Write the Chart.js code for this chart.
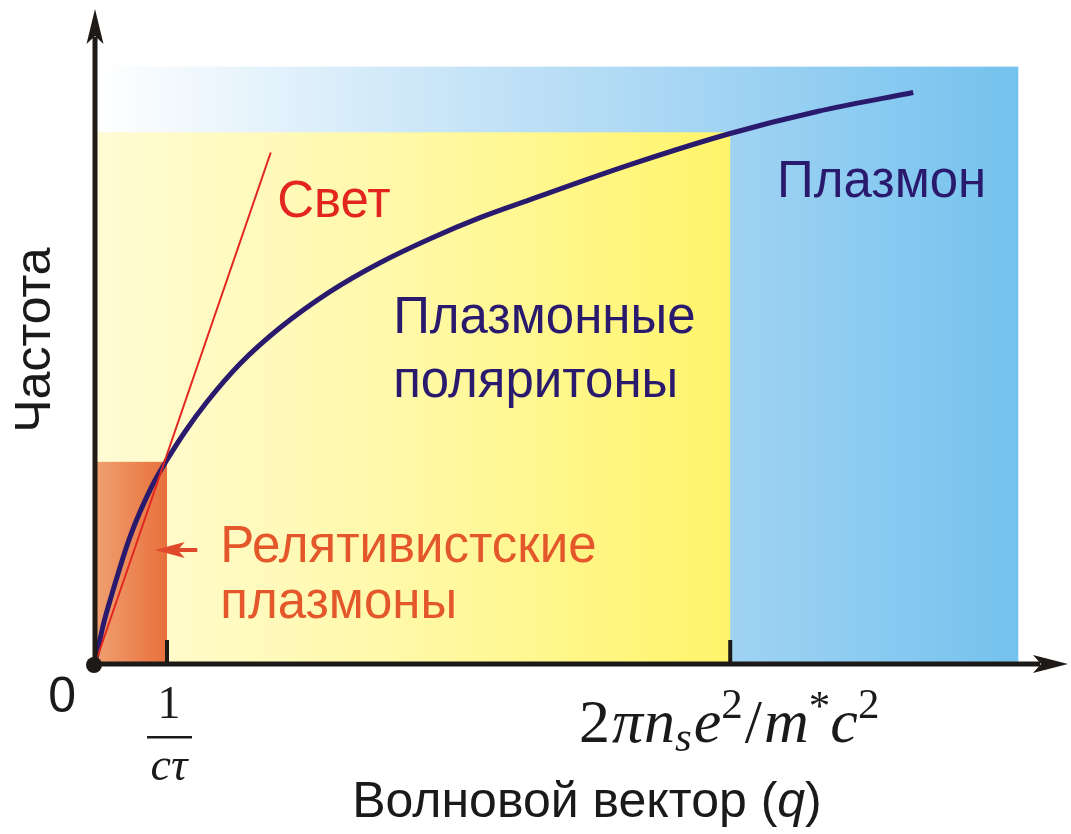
<!DOCTYPE html>
<html>
<head>
<meta charset="utf-8">
<title>Плазмоны</title>
<script src="https://cdn.jsdelivr.net/npm/chart.js@4.4.1/dist/chart.umd.min.js"></script>
<style>
  html, body { margin: 0; padding: 0; background: #ffffff; }
  #wrap { width: 1071px; height: 834px; }
</style>
</head>
<body>
<div id="wrap"><canvas id="plasmonChart" width="1071" height="834"></canvas></div>
<script>
(function (global) {
    "use strict";

    // ── Data (q in units of 1/cτ, ω in units of ω(1/cτ)) ──

    var curveQ = [0, 0.111, 0.236, 0.486, 0.792, 1.0, 1.25, 1.556, 2.014, 2.569, 3.264, 3.958, 4.653, 5.347, 6.042, 7.431, 8.819, 10.028, 11.361];
    var curveW = [0, 0.188, 0.347, 0.629, 0.881, 1.010, 1.149, 1.297, 1.485, 1.663, 1.842, 1.985, 2.104, 2.208, 2.297, 2.470, 2.624, 2.733, 2.827];

    var lightQ = [0, 2.44];
    var lightW = [0, 2.53];

    // shaded regions: plasmon, polaritons, relativistic plasmons
    var regionNames = ["plasmon", "polariton", "relativistic"];
    var regionQmax  = [12.82, 8.82, 1.0];
    var regionWmax  = [2.955, 2.63, 1.0];

    var tickQ = [1.0, 8.82];

    var axisQmax = 13.51;
    var axisWmax = 3.24;

    // ── Colours ──

    var NAVY   = "#2a1a6e";
    var RED    = "#e2261f";
    var ORANGE = "#e4572a";
    var INK    = "#1d1a18";

    function toPoints(xs, ys) {
        return xs.map(function (x, i) { return { x: x, y: ys[i] }; });
    }

    // ── Drawing helpers ──

    function arrowHead(ctx, tipX, tipY, dirX, dirY, len, half, notch) {
        var nx = -dirY, ny = dirX;
        var bx = tipX - dirX * len, by = tipY - dirY * len;
        ctx.beginPath();
        ctx.moveTo(tipX, tipY);
        ctx.lineTo(bx + nx * half, by + ny * half);
        ctx.lineTo(tipX - dirX * (len - notch), tipY - dirY * (len - notch));
        ctx.lineTo(bx - nx * half, by - ny * half);
        ctx.closePath();
        ctx.fill();
    }

    function regionFill(ctx, name, left, right) {
        var g = ctx.createLinearGradient(left, 0, right, 0);
        if (name === "plasmon") {
            g.addColorStop(0, "#ffffff");
            g.addColorStop(0.35, "#cde7f8");
            g.addColorStop(0.69, "#a0d3f3");
            g.addColorStop(1, "#74c2ee");
        } else if (name === "polariton") {
            g.addColorStop(0, "#fffbd4");
            g.addColorStop(0.5, "#fff9a6");
            g.addColorStop(1, "#fff46a");
        } else {
            g.addColorStop(0, "#f0a070");
            g.addColorStop(1, "#e8703c");
        }
        return g;
    }

    // math label pieces: [text, style, size factor, baseline shift]
    function drawMath(ctx, pieces, centerX, baseY, size) {
        var total = 0;
        pieces.forEach(function (p) {
            ctx.font = p[1] + " " + Math.round(size * p[2]) + "px 'Liberation Serif', serif";
            p.w = ctx.measureText(p[0]).width + (p[4] || 0);
            total += p.w;
        });
        var x = centerX - total / 2;
        ctx.textAlign = "left";
        pieces.forEach(function (p) {
            ctx.font = p[1] + " " + Math.round(size * p[2]) + "px 'Liberation Serif', serif";
            ctx.fillText(p[0], x, baseY + p[3]);
            x += p.w;
        });
    }

    // ── Plugin: backgrounds ──

    var backgroundPlugin = {
        id: "regions",
        beforeDatasetsDraw: function (chart) {
            var ctx = chart.ctx, xs = chart.scales.x, ys = chart.scales.y;
            var left = xs.getPixelForValue(0), bottom = ys.getPixelForValue(0);
            ctx.save();
            regionNames.forEach(function (name, i) {
                var right = xs.getPixelForValue(regionQmax[i]);
                var top = ys.getPixelForValue(regionWmax[i]);
                ctx.fillStyle = regionFill(ctx, name, left, right);
                ctx.fillRect(left, top, right - left, bottom - top);
            });
            ctx.restore();
        }
    };

    // ── Plugin: axes, ticks, labels ──

    var axesPlugin = {
        id: "axesAndText",
        afterDatasetsDraw: function (chart) {
            var ctx = chart.ctx, xs = chart.scales.x, ys = chart.scales.y;
            var area = chart.chartArea;
            var ox = xs.getPixelForValue(0), oy = ys.getPixelForValue(0);

            ctx.save();
            ctx.strokeStyle = INK;
            ctx.fillStyle = INK;
            ctx.lineWidth = 5;
            ctx.lineCap = "butt";

            // axis lines
            ctx.beginPath();
            ctx.moveTo(ox, oy);
            ctx.lineTo(ox, area.top + 28);
            ctx.moveTo(ox, oy);
            ctx.lineTo(area.right - 28, oy);
            ctx.stroke();
            arrowHead(ctx, ox, area.top, 0, -1, 35, 8.5, 8);
            arrowHead(ctx, area.right, oy, 1, 0, 35, 9, 8);

            // ticks
            ctx.lineWidth = 4;
            tickQ.forEach(function (q) {
                var px = xs.getPixelForValue(q);
                ctx.beginPath();
                ctx.moveTo(px, oy);
                ctx.lineTo(px, oy - 24);
                ctx.stroke();
            });

            // origin dot
            ctx.beginPath();
            ctx.arc(ox - 1, oy + 1, 8, 0, Math.PI * 2);
            ctx.fill();

            // tick labels
            ctx.fillStyle = "#1a1a1a";
            ctx.textBaseline = "alphabetic";
            ctx.font = "50px 'Liberation Sans', Arial, sans-serif";
            ctx.textAlign = "right";
            ctx.fillText("0", ox - 19, oy + 48);

            var t1 = xs.getPixelForValue(tickQ[0]) + 2;
            ctx.textAlign = "center";
            ctx.font = "46px 'Liberation Serif', serif";
            ctx.fillText("1", t1, oy + 54);
            ctx.fillRect(t1 - 22, oy + 72, 45, 2.5);
            ctx.font = "italic 46px 'Liberation Serif', serif";
            ctx.fillText("cτ", t1, oy + 116);

            drawMath(ctx, [
                ["2", "", 1, 0, 2],
                ["π", "italic", 1, 0, 1],
                ["n", "italic", 1, 0],
                ["s", "italic", 0.7, 9, 2],
                ["e", "italic", 1, 0],
                ["2", "", 0.7, -24, 2],
                ["/", "", 1, 0, 2],
                ["m", "italic", 1, 0],
                ["*", "", 0.7, -22],
                ["c", "italic", 1, 0],
                ["2", "", 0.7, -24]
            ], xs.getPixelForValue(tickQ[1]) - 1, oy + 78, 62);

            // axis titles
            ctx.font = "50px 'Liberation Sans', Arial, sans-serif";
            ctx.textAlign = "left";
            var pre = "Волновой вектор (";
            var preW = ctx.measureText(pre).width;
            ctx.font = "italic 50px 'Liberation Sans', Arial, sans-serif";
            var qW = ctx.measureText("q").width;
            ctx.font = "50px 'Liberation Sans', Arial, sans-serif";
            var totW = preW + qW + ctx.measureText(")").width;
            var sx = 587 - totW / 2;
            ctx.fillText(pre, sx, 817);
            ctx.font = "italic 50px 'Liberation Sans', Arial, sans-serif";
            ctx.fillText("q", sx + preW, 817);
            ctx.font = "50px 'Liberation Sans', Arial, sans-serif";
            ctx.fillText(")", sx + preW + qW, 817);

            ctx.save();
            ctx.translate(50, 340);
            ctx.rotate(-Math.PI / 2);
            ctx.textAlign = "center";
            ctx.fillText("Частота", 0, 0);
            ctx.restore();

            // region labels
            function label(text, q, w, color) {
                ctx.fillStyle = color;
                ctx.textAlign = "left";
                ctx.font = "51px 'Liberation Sans', Arial, sans-serif";
                ctx.fillText(text, xs.getPixelForValue(q), ys.getPixelForValue(w));
            }
            label("Свет", 2.53, 2.21, RED);
            label("Плазмон", 9.47, 2.31, NAVY);
            label("Плазмонные", 4.14, 1.635, NAVY);
            label("поляритоны", 4.14, 1.32, NAVY);
            label("Релятивистские", 1.74, 0.505, ORANGE);
            label("плазмоны", 1.74, 0.228, ORANGE);

            // pointer arrow to the relativistic region
            var ay = ys.getPixelForValue(0.564);
            var ax0 = xs.getPixelForValue(1.42), ax1 = xs.getPixelForValue(0.83);
            ctx.strokeStyle = "#e04a2a";
            ctx.fillStyle = "#e04a2a";
            ctx.lineWidth = 4;
            ctx.beginPath();
            ctx.moveTo(ax0, ay);
            ctx.lineTo(ax1 + 20, ay);
            ctx.stroke();
            arrowHead(ctx, ax1, ay, -1, 0, 30, 8, 7);

            ctx.restore();
        }
    };

    // ── Chart ──

    function init() {
        var ctx = document.getElementById("plasmonChart");
        new Chart(ctx, {
            type: "scatter",
            data: {
                datasets: [
                    {
                        label: "Свет",
                        data: toPoints(lightQ, lightW),
                        showLine: true,
                        borderColor: RED,
                        borderWidth: 2,
                        pointRadius: 0,
                        clip: false
                    },
                    {
                        label: "Плазмон",
                        data: toPoints(curveQ, curveW),
                        showLine: true,
                        borderColor: NAVY,
                        borderWidth: 5,
                        cubicInterpolationMode: "monotone",
                        pointRadius: 0,
                        clip: false
                    }
                ]
            },
            options: {
                responsive: false,
                animation: false,
                devicePixelRatio: 1,
                layout: { padding: { left: 95, right: 3, top: 9, bottom: 170 } },
                scales: {
                    x: { type: "linear", min: 0, max: axisQmax, display: false },
                    y: { type: "linear", min: 0, max: axisWmax, display: false }
                },
                plugins: {
                    legend: { display: false },
                    tooltip: { enabled: false }
                }
            },
            plugins: [backgroundPlugin, axesPlugin]
        });
    }

    document.addEventListener("DOMContentLoaded", init);

})(window);
</script>
</body>
</html>
